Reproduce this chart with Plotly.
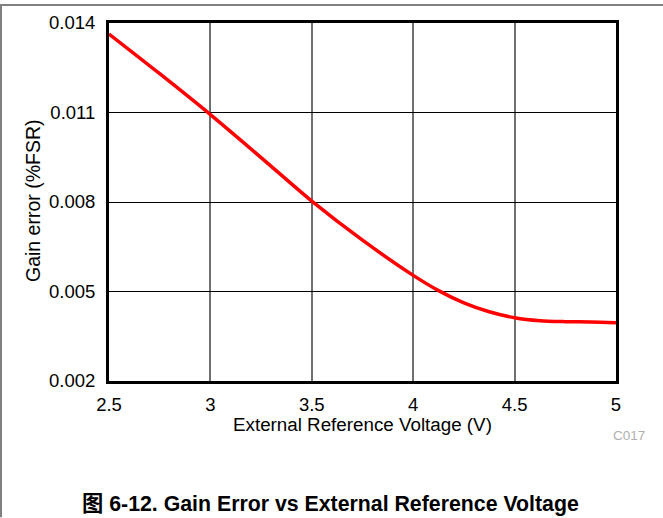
import plotly.graph_objects as go

# Gain error vs external reference voltage
vref = [2.5, 2.75, 3.0, 3.25, 3.5, 3.75, 4.0, 4.125, 4.25, 4.375, 4.5, 4.625, 4.75, 4.875, 5.0]
gain_err = [0.01363, 0.01230, 0.01093, 0.00949, 0.00803, 0.00672, 0.00554, 0.00503,
            0.00462, 0.00432, 0.00412, 0.00402, 0.00399, 0.00398, 0.00395]

x_ticks = [2.5, 3, 3.5, 4, 4.5, 5]
x_tick_text = ["2.5", "3", "3.5", "4", "4.5", "5"]
y_ticks = [0.002, 0.005, 0.008, 0.011, 0.014]
y_tick_text = ["0.002", "0.005", "0.008", "0.011", "0.014"]

FONT = "Liberation Sans, Arial, Noto Sans CJK SC, sans-serif"

W, H = 663, 518
L, R, T, B = 109, 47, 21, 137
pw, ph = W - L - R, H - T - B

def px_x(px):
    # pixel column -> paper x
    return (px - L) / pw

def px_y(py):
    # pixel row -> paper y
    return (H - B - py) / ph

curve = go.Scatter(
    x=vref,
    y=gain_err,
    mode='lines',
    line=dict(color='#ff0000', width=3.5, shape='spline', smoothing=0.8),
    showlegend=False,
    hoverinfo='skip',
)

layout = go.Layout(
    width=W,
    height=H,
    paper_bgcolor='white',
    plot_bgcolor='white',
    margin=dict(l=L, r=R, t=T, b=B),
    font=dict(family=FONT, size=19, color='black'),
    xaxis=dict(
        range=[2.5, 5],
        tickvals=x_ticks,
        ticktext=x_tick_text,
        showgrid=True,
        gridcolor='#707070',
        gridwidth=1.5,
        zeroline=False,
        showline=True,
        linecolor='black',
        linewidth=3,
        mirror=True,
        ticks='',
        ticklabelstandoff=5,
        tickfont=dict(size=18.5),
    ),
    yaxis=dict(
        range=[0.002, 0.014],
        tickvals=y_ticks,
        ticktext=y_tick_text,
        showgrid=True,
        gridcolor='black',
        gridwidth=1,
        zeroline=False,
        showline=True,
        linecolor='black',
        linewidth=3,
        mirror=True,
        ticks='',
        ticklabelstandoff=7,
        tickfont=dict(size=18.5),
    ),
    annotations=[
        dict(text="External Reference Voltage (V)", x=px_x(362), y=px_y(425), xref='paper', yref='paper',
             showarrow=False, font=dict(size=18.8), xanchor='center', yanchor='middle'),
        dict(text="Gain error (%FSR)", x=px_x(33), y=px_y(200), xref='paper', yref='paper',
             showarrow=False, font=dict(size=19.5), textangle=-90, xanchor='center', yanchor='middle'),
        dict(text="C017", x=px_x(629), y=px_y(436), xref='paper', yref='paper',
             showarrow=False, font=dict(size=13.5, color='#b0b0b0'), xanchor='center', yanchor='middle'),
        dict(text="<b>图 6-12. Gain Error vs External Reference Voltage</b>", x=px_x(330), y=px_y(505),
             xref='paper', yref='paper', showarrow=False, font=dict(size=21.3),
             xanchor='center', yanchor='middle'),
    ],
    shapes=[
        dict(type='line', xref='paper', yref='paper', x0=px_x(0), x1=px_x(663), y0=px_y(3), y1=px_y(3),
             line=dict(color='#808080', width=2)),
        dict(type='line', xref='paper', yref='paper', x0=px_x(1), x1=px_x(1), y0=px_y(3), y1=px_y(518),
             line=dict(color='#808080', width=2)),
    ],
)

fig = go.Figure(data=[curve], layout=layout)

fig.write_html("out.html", config=dict(displayModeBar=False),
               post_script="document.body.style.margin='0';")
